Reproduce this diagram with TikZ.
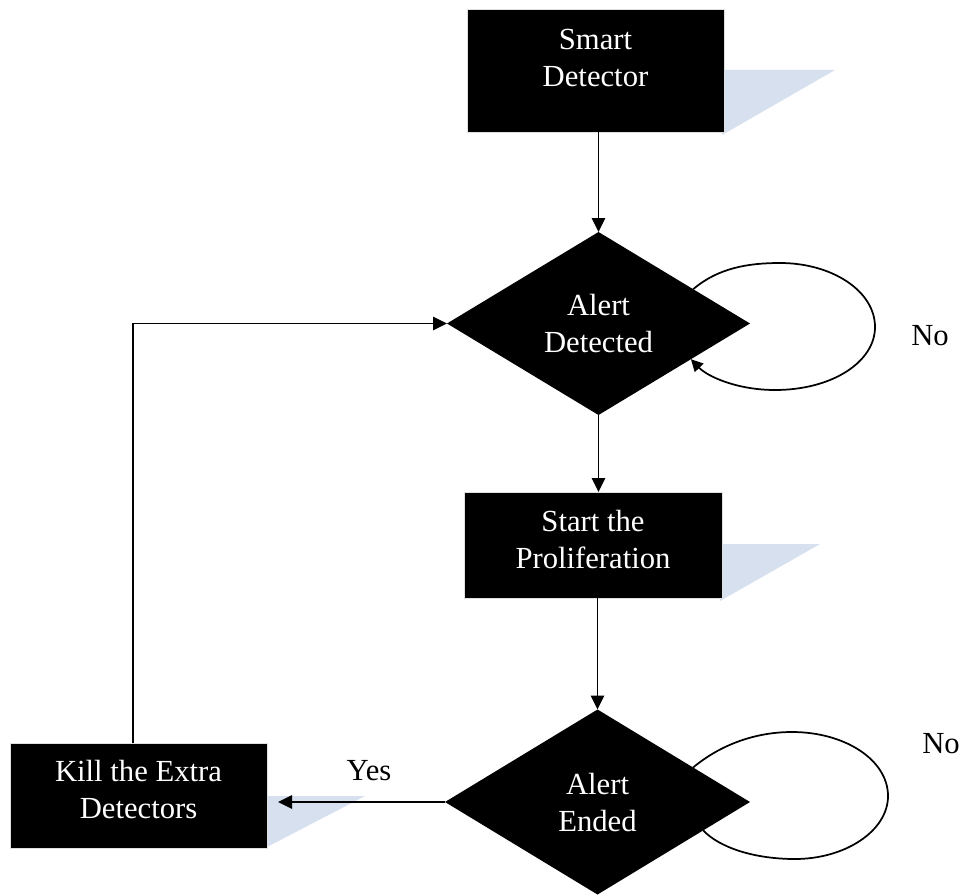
\documentclass[tikz,border=0pt]{standalone}
\usepackage{fontspec}
\setmainfont{Liberation Serif}
\usetikzlibrary{shapes.geometric,arrows.meta,calc}
\definecolor{shadowblue}{RGB}{214,224,238}

\begin{document}
\begin{tikzpicture}[x=0.75pt,y=-0.75pt,
  every node/.style={font=\fontsize{23}{27.75}\selectfont},
  procbox/.style={rectangle, fill=black, draw=black!12, line width=0.6pt,
    text=white, align=center, inner sep=0pt, outer sep=0pt},
  decision/.style={diamond, fill=black, text=white, align=center,
    inner sep=0pt, outer sep=0pt},
  flow/.style={line width=1.4pt, -{Triangle[length=10.5pt,width=10pt]}},
  loopline/.style={line width=1.3pt},
  tag/.style={text=black}
]
% canvas
\fill[white] (0,0) rectangle (966,895);
\useasboundingbox (0,0) rectangle (966,895);

% light blue wedges behind the boxes
\fill[shadowblue] (722,70) -- (835,70) -- (722,135) -- cycle;
\fill[shadowblue] (720,544) -- (820,544) -- (720,601) -- cycle;
\fill[shadowblue] (265,796) -- (365,796) -- (265,848) -- cycle;

% process boxes
\node[procbox, minimum width=192.75pt, minimum height=92.25pt, text depth=18.7pt]
  (sd) at (595.5,70.5) {Smart\\Detector};
\node[procbox, minimum width=193.5pt, minimum height=79.5pt, text depth=8.95pt]
  (sp) at (593,545) {Start the\\Proliferation};
\node[procbox, minimum width=192.75pt, minimum height=78.75pt, text depth=9.7pt]
  (kill) at (138.5,795.5) {Kill the Extra\\Detectors};

% decisions
\node[decision, minimum width=227.25pt, minimum height=137.25pt]
  (d1) at (598.5,323.5) {Alert\\Detected};
\node[decision, minimum width=228.75pt, minimum height=138.75pt]
  (d2) at (597.5,802) {Alert\\Ended};

% main flow
\draw[flow] (sd.south -| d1.north) -- (d1.north);
\draw[flow] (d1.south) -- (d1.south |- sp.north);
\draw[flow] (sp.south -| d2.north) -- (d2.north);
\draw[flow, shorten >=8.25pt] (d2.west) -- (d2.west -| kill.east);
\draw[flow] ([xshift=-4pt]kill.north) |- (d1.west);

% "No" loops
\coordinate (l1s) at ($(d1.north)!0.625!(d1.east)$);
\coordinate (l1e) at ($(d1.east)!0.39!(d1.south)$);
\draw[loopline, -{Triangle[length=9pt,width=9pt]}]
  (l1s) .. controls (718,268) and (748,263) .. (780,263)
        .. controls (832,263) and (875,291) .. (875,327)
        .. controls (875,362) and (832,390) .. (775,390)
        .. controls (738,390) and (708,377) .. (l1e);

\coordinate (l2s) at ($(d2.north)!0.627!(d2.east)$);
\coordinate (l2e) at ($(d2.east)!0.307!(d2.south)$);
\draw[loopline]
  (l2s) .. controls (720,745) and (755,732) .. (792,732)
        .. controls (845,732) and (888,760) .. (888,796)
        .. controls (888,831) and (845,859) .. (795,859)
        .. controls (755,859) and (720,848) .. (l2e);

% labels
\node[tag] (no1) at (930,336) {No};
\node[tag] (no2) at (941,744) {No};
\node[tag] (yes) at (369,771) {Yes};
\end{tikzpicture}
\end{document}
